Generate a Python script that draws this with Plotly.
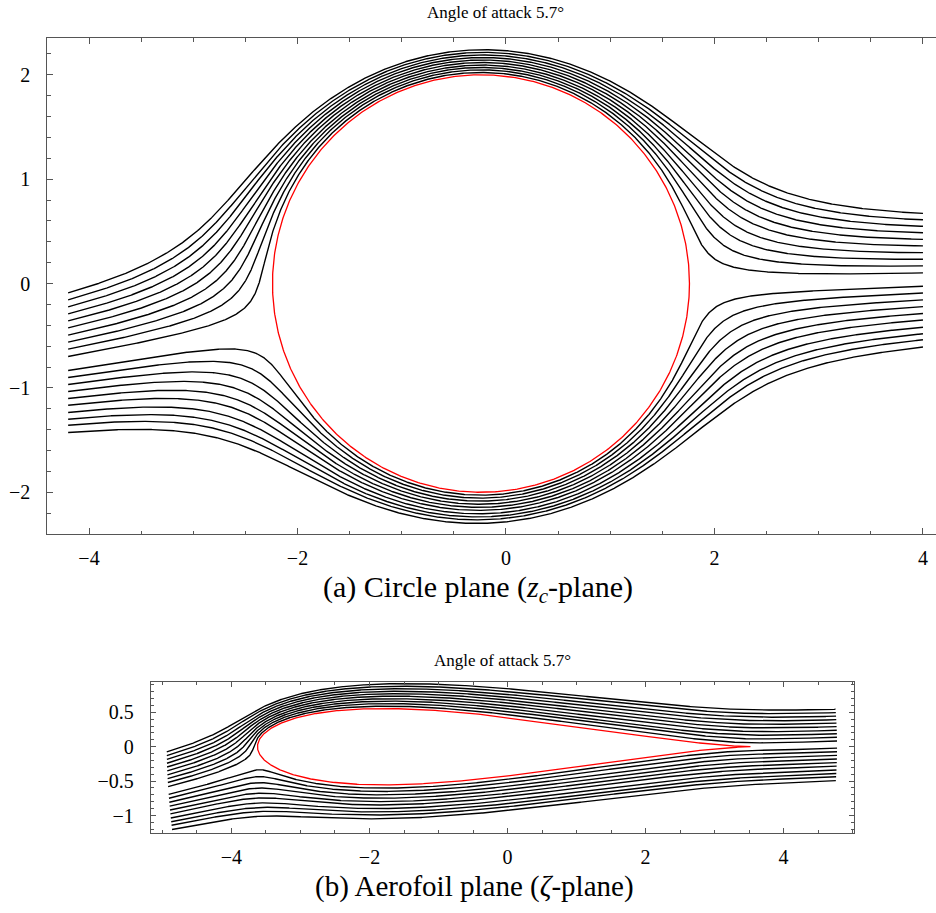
import numpy as np
import plotly.graph_objects as go

# ---- data ----
alpha_deg = 5.7            # angle of attack
circle_radius = 2.0
joukowski_c = 1.76         # trailing-edge point of the circle (z = c)
circle_centre = joukowski_c - circle_radius   # -0.24 on the real axis
x_start = -4.2             # streamlines start here in the circle plane
x_end = 4.0                # ... and end here
start_y_upper = [-0.09, -0.157, -0.224, -0.291, -0.358, -0.425, -0.494, -0.561, -0.628, -0.699]
start_y_lower = [-0.833, -0.900, -0.968, -1.035, -1.102, -1.166, -1.236, -1.300, -1.358, -1.428]

# ---- potential flow with Kutta condition ----
U = 1.0
a = np.deg2rad(alpha_deg)
Gam = 4 * np.pi * U * circle_radius * np.sin(a)
z0 = complex(circle_centre, 0.0)


def velocity(z):
    zr = z - z0
    dw = U * (np.exp(-1j * a) - circle_radius ** 2 * np.exp(1j * a) / zr ** 2) + 1j * Gam / (2 * np.pi * zr)
    return np.conj(dw)


def direction(z):
    v = velocity(z)
    return v / abs(v)


def trace(y0, h=0.008, nmax=6000):
    z = complex(x_start, y0)
    pts = [z]
    for _ in range(nmax):
        k1 = direction(z)
        k2 = direction(z + 0.5 * h * k1)
        k3 = direction(z + 0.5 * h * k2)
        k4 = direction(z + h * k3)
        zn = z + h / 6 * (k1 + 2 * k2 + 2 * k3 + k4)
        if zn.real >= x_end:
            t = (x_end - z.real) / (zn.real - z.real)
            pts.append(z + t * (zn - z))
            break
        pts.append(zn)
        z = zn
    return np.array(pts)


lines_z = [trace(y) for y in start_y_upper + start_y_lower]
lines_zeta = [zz + joukowski_c ** 2 / zz for zz in lines_z]

th = np.linspace(0, 2 * np.pi, 721)
circ = z0 + circle_radius * np.exp(1j * th)
foil = circ + joukowski_c ** 2 / circ

fig = go.Figure()
for zz in lines_z:
    fig.add_trace(go.Scatter(x=zz.real, y=zz.imag, mode="lines", line=dict(color="black", width=1.4),
                             xaxis="x", yaxis="y", showlegend=False, hoverinfo="skip"))
fig.add_trace(go.Scatter(x=circ.real, y=circ.imag, mode="lines", line=dict(color="#ff0000", width=1.3),
                         xaxis="x", yaxis="y", showlegend=False, hoverinfo="skip"))
for zz in lines_zeta:
    fig.add_trace(go.Scatter(x=zz.real, y=zz.imag, mode="lines", line=dict(color="black", width=1.4),
                             xaxis="x2", yaxis="y2", showlegend=False, hoverinfo="skip"))
fig.add_trace(go.Scatter(x=foil.real, y=foil.imag, mode="lines", line=dict(color="#ff0000", width=1.3),
                         xaxis="x2", yaxis="y2", showlegend=False, hoverinfo="skip"))

W, H = 936, 913
serif = "Liberation Serif"
tickfont = dict(family=serif, size=20, color="black")
axcol = "#555555"


def px_x(p):
    return p / W


def px_y(p):
    return (H - p) / H


common = dict(showgrid=False, zeroline=False, showline=True, linecolor=axcol, linewidth=1,
              ticks="inside", tickcolor=axcol, tickwidth=1, tickfont=tickfont)

fig.update_layout(
    width=W, height=H, margin=dict(l=0, r=0, t=0, b=0, pad=0),
    paper_bgcolor="white", plot_bgcolor="white", hovermode=False,
    xaxis=dict(domain=[px_x(47.3), 1.0], range=[-4.40, 4.125], anchor="y", mirror="ticks",
               dtick=2, tick0=0, ticklen=6, minor=dict(dtick=0.5, tick0=0, ticklen=3.5, ticks="inside", tickcolor=axcol),
               ticklabelstandoff=6, **common),
    yaxis=dict(domain=[px_y(534), px_y(38.3)], range=[-2.40, 2.35], anchor="x",
               dtick=1, tick0=0, ticklen=6, minor=dict(dtick=0.2, tick0=0, ticklen=3.5, ticks="inside", tickcolor=axcol),
               ticklabelstandoff=12, **common),
    xaxis2=dict(domain=[px_x(150.7), px_x(854)], range=[-5.17, 5.02], anchor="y2", mirror="ticks",
                dtick=2, tick0=0, ticklen=5, minor=dict(dtick=0.5, tick0=0, ticklen=3, ticks="inside", tickcolor=axcol),
                ticklabelstandoff=6, **common),
    yaxis2=dict(domain=[px_y(832.7), px_y(681.7)], range=[-1.25, 0.945], anchor="x2", mirror="ticks",
                dtick=0.5, tick0=0, ticklen=5, minor=dict(dtick=0.1, tick0=0, ticklen=3, ticks="inside", tickcolor=axcol),
                ticklabelstandoff=12, **common),
)

title_font = dict(family=serif, size=17, color="black")
fig.add_annotation(text="Angle of attack 5.7°", x=px_x(495.5), y=px_y(13), xref="paper", yref="paper",
                   showarrow=False, font=title_font, xanchor="center", yanchor="middle")
fig.add_annotation(text="Angle of attack 5.7°", x=px_x(502), y=px_y(660), xref="paper", yref="paper",
                   showarrow=False, font=title_font, xanchor="center", yanchor="middle")
fig.add_annotation(text="(a) Circle plane (<i>z</i><sub><i>c</i></sub>-plane)", x=px_x(478), y=px_y(589),
                   xref="paper", yref="paper", showarrow=False, font=dict(family=serif, size=30, color="black"),
                   xanchor="center", yanchor="middle")
fig.add_annotation(text="(b) Aerofoil plane (<i>ζ</i>-plane)", x=px_x(474), y=px_y(886),
                   xref="paper", yref="paper", showarrow=False, font=dict(family=serif, size=29, color="black"),
                   xanchor="center", yanchor="middle")

fig.write_html("out.html", config={"responsive": False, "displayModeBar": False},
               post_script="document.body.style.margin='0';document.body.style.padding='0';")
